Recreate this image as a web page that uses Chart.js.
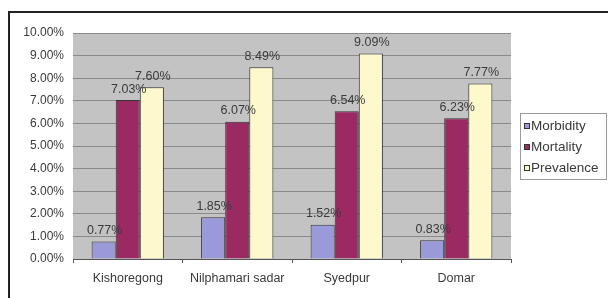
<!DOCTYPE html>
<html>
<head>
<meta charset="utf-8">
<script src="https://cdn.jsdelivr.net/npm/chart.js@4.4.1/dist/chart.umd.min.js"></script>
<style>
  html, body { margin: 0; padding: 0; background: #fff; }
  #wrap { width: 608px; height: 298px; position: relative; }
</style>
</head>
<body>
<div id="wrap"><canvas id="chart" width="608" height="298"></canvas></div>
<script>
const CATEGORIES = ['Kishoregong', 'Nilphamari sadar', 'Syedpur', 'Domar'];
const SERIES_NAMES = ['Morbidity', 'Mortality', 'Prevalence'];
const MORBIDITY = [0.77, 1.85, 1.52, 0.83];
const MORTALITY = [7.03, 6.07, 6.54, 6.23];
const PREVALENCE = [7.60, 8.49, 9.09, 7.77];

const BAR_COLORS = ['#9a9ad8', '#9b2a63', '#fdf9cc'];
const TEXT_COLOR = '#3a3a3a';
const FAMILY = '"Liberation Sans", Arial, sans-serif';

// page frame + grey plot area
const backgroundPlugin = {
    id: 'background',
    beforeDraw(chart) {
        const ctx = chart.ctx;
        const a = chart.chartArea;
        ctx.save();
        ctx.fillStyle = '#fff';
        ctx.fillRect(0, 0, chart.width, chart.height);
        ctx.fillStyle = '#c3c3c3';
        ctx.fillRect(a.left, a.top, a.right - a.left, a.bottom - a.top);
        ctx.strokeStyle = '#222';
        ctx.lineWidth = 2;
        ctx.beginPath();
        ctx.moveTo(9, chart.height);
        ctx.lineTo(9, 12);
        ctx.lineTo(chart.width, 12);
        ctx.stroke();
        ctx.restore();
    }
};

// value labels above bars and the boxed legend on the right
const labelsPlugin = {
    id: 'labels',
    afterDatasetsDraw(chart) {
        const ctx = chart.ctx;
        ctx.save();
        ctx.font = '12.5px ' + FAMILY;
        ctx.fillStyle = TEXT_COLOR;
        ctx.textAlign = 'center';
        ctx.textBaseline = 'middle';
        chart.data.datasets.forEach((ds, i) => {
            chart.getDatasetMeta(i).data.forEach((bar, j) => {
                ctx.fillText(ds.data[j].toFixed(2) + '%', bar.x + 1, bar.y - 11);
            });
        });

        // legend
        ctx.fillStyle = '#fff';
        ctx.fillRect(520.5, 113.5, 86, 66);
        ctx.strokeStyle = '#9a9a9a';
        ctx.lineWidth = 1;
        ctx.strokeRect(520.5, 113.5, 86, 66);
        ctx.textAlign = 'left';
        ctx.font = '13.5px ' + FAMILY;
        SERIES_NAMES.forEach((name, i) => {
            const y = 126 + i * 21;
            ctx.fillStyle = BAR_COLORS[i];
            ctx.fillRect(524, y - 3, 6, 6);
            ctx.strokeStyle = '#333';
            ctx.strokeRect(524.5, y - 2.5, 5, 5);
            ctx.fillStyle = TEXT_COLOR;
            ctx.fillText(name, 531, y);
        });
        ctx.restore();
    }
};

function makeDataset(label, data, color) {
    return {
        label,
        data,
        backgroundColor: color,
        borderColor: '#333',
        borderWidth: 1,
        categoryPercentage: 0.66,
        barPercentage: 1.0
    };
}

const datasets = [
    makeDataset(SERIES_NAMES[0], MORBIDITY, BAR_COLORS[0]),
    makeDataset(SERIES_NAMES[1], MORTALITY, BAR_COLORS[1]),
    makeDataset(SERIES_NAMES[2], PREVALENCE, BAR_COLORS[2])
];

new Chart(document.getElementById('chart').getContext('2d'), {
    type: 'bar',
    data: { labels: CATEGORIES, datasets: datasets },
    options: {
        responsive: false,
        animation: false,
        layout: { padding: { left: 0, right: 97, top: 33, bottom: 0 } },
        plugins: {
            legend: { display: false },
            tooltip: { enabled: false }
        },
        scales: {
            x: {
                afterFit(scale) { scale.height = 39; },
                border: { color: '#555', width: 1 },
                grid: { drawOnChartArea: false, drawTicks: true, tickLength: 4, color: '#555' },
                ticks: { color: TEXT_COLOR, font: { family: FAMILY, size: 12.5 }, padding: 8, maxRotation: 0 }
            },
            y: {
                min: 0,
                max: 10,
                afterFit(scale) { scale.width = 73; },
                border: { display: false },
                grid: { color: '#8a8a8a', drawTicks: false },
                ticks: {
                    stepSize: 1,
                    color: TEXT_COLOR,
                    font: { family: FAMILY, size: 12 },
                    padding: 9,
                    callback: v => v.toFixed(2) + '%'
                }
            }
        }
    },
    plugins: [backgroundPlugin, labelsPlugin]
});
</script>
</body>
</html>
